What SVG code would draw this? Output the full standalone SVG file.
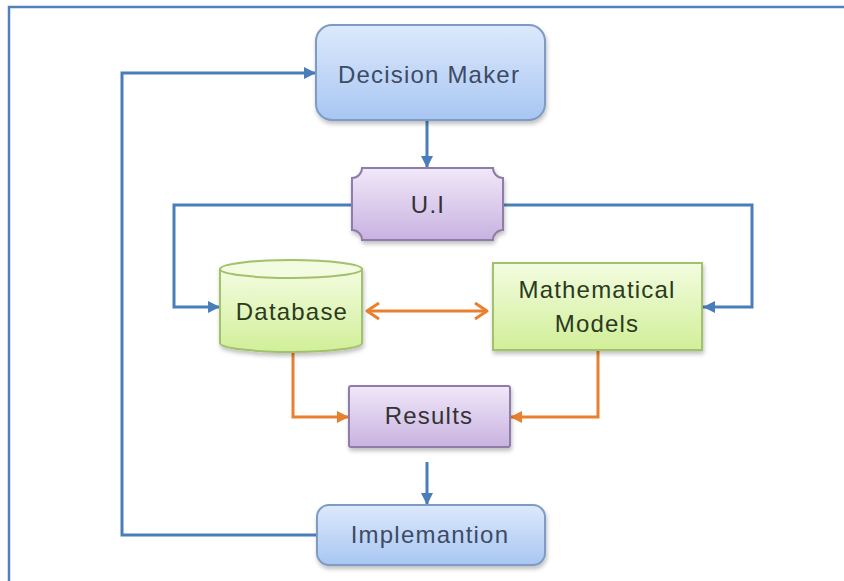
<svg xmlns="http://www.w3.org/2000/svg" width="844" height="581" viewBox="0 0 844 581">
  <style>
    .lbl { font-family: "Liberation Sans", Arial, sans-serif; font-size: 24px; letter-spacing: 1.2px; text-anchor: middle; }
    .blue { stroke: #4a7ebb; stroke-width: 3; fill: none; }
    .orange { stroke: #e8802f; stroke-width: 3; fill: none; }
  </style>
  <defs>
    <linearGradient id="gBlue" x1="0" y1="0" x2="0" y2="1">
      <stop offset="0" stop-color="#dde9fc"/>
      <stop offset="1" stop-color="#a8c6f2"/>
    </linearGradient>
    <linearGradient id="gPurple" x1="0" y1="0" x2="0" y2="1">
      <stop offset="0" stop-color="#f1e8f9"/>
      <stop offset="1" stop-color="#c8b2e0"/>
    </linearGradient>
    <linearGradient id="gGreen" x1="0" y1="0" x2="0" y2="1">
      <stop offset="0" stop-color="#f3fce0"/>
      <stop offset="1" stop-color="#d1ef98"/>
    </linearGradient>
    <filter id="sh" x="-10%" y="-10%" width="125%" height="130%">
      <feDropShadow dx="1" dy="3" stdDeviation="2" flood-color="#000" flood-opacity="0.25"/>
    </filter>
    <marker id="aBlue" markerUnits="userSpaceOnUse" markerWidth="14" markerHeight="14" refX="12" refY="6" orient="auto">
      <path d="M0,0 L12,6 L0,12 Z" fill="#4a7ebb"/>
    </marker>
    <marker id="aOrange" markerUnits="userSpaceOnUse" markerWidth="14" markerHeight="14" refX="12" refY="6" orient="auto">
      <path d="M0,0 L12,6 L0,12 Z" fill="#e8802f"/>
    </marker>
    <marker id="oOrange" markerUnits="userSpaceOnUse" markerWidth="16" markerHeight="18" refX="14" refY="9" orient="auto-start-reverse">
      <path d="M2,1 L14,9 L2,17" fill="none" stroke="#e8802f" stroke-width="3" stroke-linejoin="round"/>
    </marker>
  </defs>

  <path d="M9,581 V7 H844" fill="none" stroke="#4f81bd" stroke-width="2.5"/>

  <g id="connectors">
    <path class="blue" d="M427,120 V168" marker-end="url(#aBlue)"/>
    <path class="blue" d="M352,205 H174 V307 H220" marker-end="url(#aBlue)"/>
    <path class="blue" d="M503,205 H752 V307 H703" marker-end="url(#aBlue)"/>
    <path class="orange" d="M367,311 H487" marker-start="url(#oOrange)" marker-end="url(#oOrange)"/>
    <path class="orange" d="M293,352 V417 H349" marker-end="url(#aOrange)"/>
    <path class="orange" d="M598,350 V417 H510" marker-end="url(#aOrange)"/>
    <path class="blue" d="M427,462 V505" marker-end="url(#aBlue)"/>
    <path class="blue" d="M317,535 H122 V73 H316" marker-end="url(#aBlue)"/>
  </g>

  <g id="decision-maker">
    <rect x="316" y="25" width="229" height="95" rx="16" fill="url(#gBlue)" stroke="#7d9bc4" stroke-width="2" filter="url(#sh)"/>
    <text class="lbl" x="429" y="83" fill="#3d4b66">Decision Maker</text>
  </g>

  <g id="ui">
    <path d="M362,168 H493 A10,10 0 0 0 503,178 V230 A10,10 0 0 0 493,240 H362 A10,10 0 0 0 352,230 V178 A10,10 0 0 0 362,168 Z" fill="url(#gPurple)" stroke="#8f7ba8" stroke-width="2" filter="url(#sh)"/>
    <text class="lbl" x="428" y="213" fill="#333333">U.I</text>
  </g>

  <g id="database">
    <g filter="url(#sh)">
      <path d="M220,269 V343 A71,9 0 0 0 362,343 V269 Z" fill="url(#gGreen)" stroke="#a2c16c" stroke-width="2"/>
      <ellipse cx="291" cy="269" rx="71" ry="9" fill="#f3fce0" stroke="#a2c16c" stroke-width="2"/>
    </g>
    <text class="lbl" x="292" y="320" fill="#2b3a20">Database</text>
  </g>

  <g id="mathematical-models">
    <rect x="493" y="263" width="209" height="87" fill="url(#gGreen)" stroke="#a2c16c" stroke-width="2" filter="url(#sh)"/>
    <text class="lbl" x="597" y="298" fill="#2b3a20">Mathematical</text>
    <text class="lbl" x="597" y="332" fill="#2b3a20">Models</text>
  </g>

  <g id="results">
    <rect x="349" y="386" width="161" height="61" rx="2" fill="url(#gPurple)" stroke="#8f7ba8" stroke-width="2" filter="url(#sh)"/>
    <text class="lbl" x="429" y="424" fill="#333333">Results</text>
  </g>

  <g id="implementation">
    <rect x="317" y="505" width="228" height="60" rx="12" fill="url(#gBlue)" stroke="#7d9bc4" stroke-width="2" filter="url(#sh)"/>
    <text class="lbl" x="430" y="543" fill="#3d4b66">Implemantion</text>
  </g>
</svg>
